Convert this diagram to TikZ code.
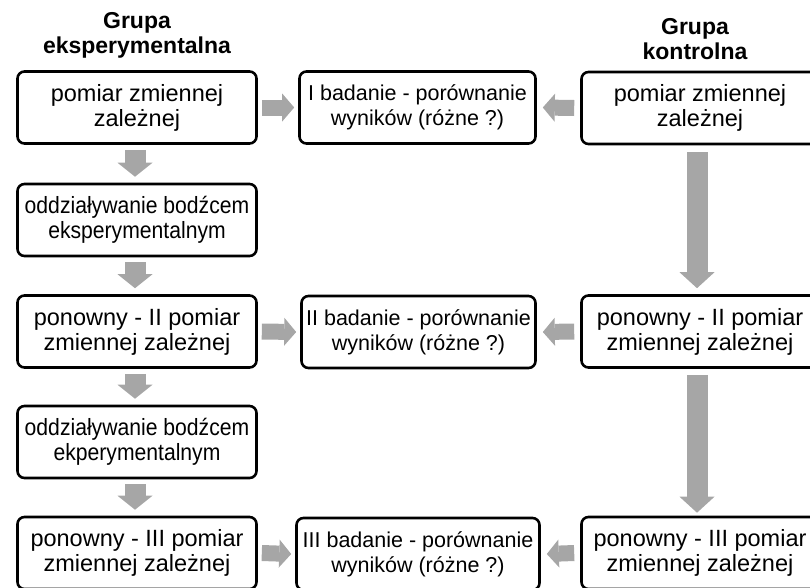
\documentclass[tikz,border=0pt]{standalone}
\usepackage{fontspec}
\setmainfont{Liberation Sans}
\newfontfamily\narrowfont[FakeStretch=0.9]{Liberation Sans}
\usetikzlibrary{arrows.meta}
\definecolor{arrgray}{HTML}{A6A6A6}
\begin{document}
\begin{tikzpicture}[x=1pt,y=-1pt,
  box/.style={draw=black, line width=2.6pt, rounded corners=7pt, fill=white, align=center,
    inner sep=0pt, minimum height=72pt, font=\fontsize{23.5}{25}\selectfont},
  lbox/.style={box, minimum width=239pt},
  nbox/.style={lbox, font=\fontsize{23.5}{25}\selectfont\narrowfont},
  mbox/.style={box, font=\fontsize{21.5}{25}\selectfont},
  rbox/.style={box, minimum width=237pt},
  hdr/.style={align=center, inner sep=0pt, font=\fontsize{23}{25}\selectfont\bfseries},
  vsmall/.style={draw=arrgray, line width=21pt, -{Triangle[width=35pt,length=14pt,line width=0pt]}},
  hsmall/.style={draw=arrgray, line width=16pt, -{Triangle[width=28pt,length=12pt,line width=0pt]}},
  vlong/.style={draw=arrgray, line width=21pt, -{Triangle[width=35pt,length=16pt,line width=0pt]}},
]
\useasboundingbox (0,0) rectangle (810,587);
\clip (0,0) rectangle (810,587);

% headers
\node[hdr] (hl) at (137,35.5) {Grupa\\eksperymentalna};
\node[hdr] (hr) at (695,39.5) {Grupa\\kontrolna};

% left column
\node[lbox] (L1) at (137,107.5) {pomiar zmiennej\\zależnej};
\node[nbox] (L2) at (137,220) {oddziaływanie bodźcem\\eksperymentalnym};
\node[lbox] (L3) at (137,331.5) {ponowny - II pomiar\\zmiennej zależnej};
\node[nbox] (L4) at (137,442) {oddziaływanie bodźcem\\ekperymentalnym};
\node[lbox] (L5) at (137,553) {ponowny - III pomiar\\zmiennej zależnej};

% middle column
\node[mbox, minimum width=236pt] (M1) at (417.5,107.5) {I badanie - porównanie\\wyników (różne ?)};
\node[mbox, minimum width=234pt] (M2) at (418.5,332) {II badanie - porównanie\\wyników (różne ?)};
\node[mbox, minimum width=243pt] (M3) at (418,554) {III badanie - porównanie\\wyników (różne ?)};

% right column
\node[rbox] (R1) at (700,108) {pomiar zmiennej\\zależnej};
\node[rbox] (R2) at (700,331.5) {ponowny - II pomiar\\zmiennej zależnej};
\node[rbox] (R3) at (700,553) {ponowny - III pomiar\\zmiennej zależnej};

% left vertical arrows
\foreach \a/\b in {L1/L2, L2/L3, L3/L4, L4/L5}
  \draw[vsmall] ([xshift=-2pt,yshift=-5pt]\a.south) -- ([xshift=-2pt,yshift=6pt]\b.north);

% horizontal arrows
\foreach \a/\b in {L1/M1, L3/M2, L5/M3}
  \draw[hsmall] ([xshift=4pt]\a.east) -- ([xshift=-4pt]\b.west);
\foreach \a/\b in {R1/M1, R2/M2, R3/M3}
  \draw[hsmall] ([xshift=-6pt]\a.west) -- ([xshift=6pt]\b.east);

% right long arrows
\draw[vlong] ([xshift=-3pt,yshift=-7pt]R1.south) -- ([xshift=-3pt,yshift=6pt]R2.north);
\draw[vlong] ([xshift=-3pt,yshift=-6pt]R2.south) -- ([xshift=-3pt,yshift=3pt]R3.north);
\end{tikzpicture}
\end{document}
